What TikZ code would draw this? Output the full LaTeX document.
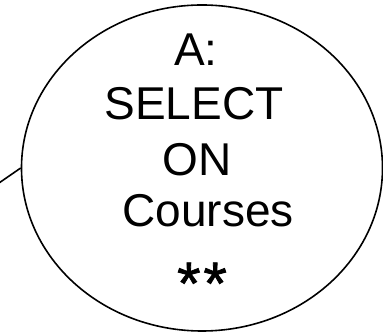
\documentclass[tikz,border=0pt]{standalone}
\usepackage{fontspec}
\setmainfont{Liberation Sans}
\newfontfamily\starfont[FakeBold=1.3]{Liberation Sans}
\usetikzlibrary{shapes.geometric}

\tikzset{
  bubble/.style={draw, ellipse, line width=1.6pt, minimum width=361pt, minimum height=326pt, inner sep=0pt},
  bubbletext/.style={anchor=base, inner sep=0pt, font=\fontsize{46}{54}\selectfont}
}

\begin{document}
\begin{tikzpicture}[x=1pt,y=1pt]
  \useasboundingbox (0,0) rectangle (383,334);
  % Sprechblase
  \node[bubble] (sel) at (202,166) {};
  \coordinate (tail) at (-1,151);
  \draw[line width=1.6pt] (tail) -- (sel.west);
  % Text
  \node[bubbletext] (lblA) at (196,268) {A:};
  \node[bubbletext] (lblSelect) at (194,214) {SELECT};
  \node[bubbletext] (lblOn) at (197,158) {ON};
  \node[bubbletext] (lblCourses) at (208,107) {Courses};
  \node[bubbletext, font=\starfont\fontsize{60}{64}\selectfont] (lblStars) at (202,30) {*\kern3pt*};
\end{tikzpicture}
\end{document}
